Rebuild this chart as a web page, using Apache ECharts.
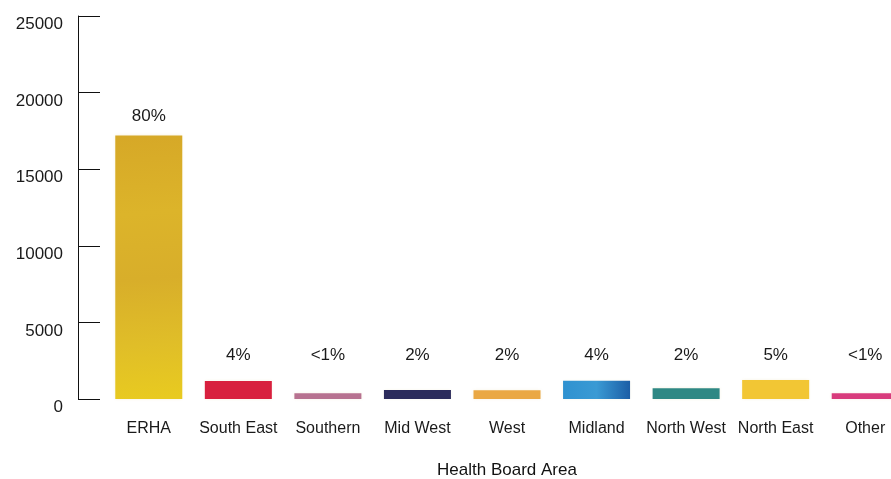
<!DOCTYPE html>
<html>
<head>
<meta charset="utf-8">
<script src="https://cdn.jsdelivr.net/npm/echarts@6/dist/echarts.min.js"></script>
<style>
  html, body { margin: 0; padding: 0; background: #ffffff; }
  #chart { width: 891px; height: 479px; }
</style>
</head>
<body>
<div id="chart"></div>
<script>
// Patients by health board area
const categories = ['ERHA', 'South East', 'Southern', 'Mid West', 'West', 'Midland', 'North West', 'North East', 'Other'];
const counts = [17200, 1170, 380, 590, 570, 1190, 700, 1240, 370];
const shareLabels = ['80%', '4%', '<1%', '2%', '2%', '4%', '2%', '5%', '<1%'];
const yTicks = { min: 0, max: 25000, interval: 5000 };
// small bars keep their share label on a common line at this axis value
const labelFloor = 2870;

const barColors = [
  { type: 'linear', x: 0, y: 0, x2: 0.3, y2: 1, colorStops: [
    { offset: 0, color: '#d6a827' }, { offset: 0.3, color: '#dcb42a' },
    { offset: 0.55, color: '#d8ae2a' }, { offset: 0.8, color: '#e0be28' },
    { offset: 1, color: '#e8ca20' } ] },
  '#d8203e',
  '#b77290',
  '#2c2c5c',
  '#eaa844',
  { type: 'linear', x: 0, y: 0, x2: 1, y2: 0, colorStops: [
    { offset: 0, color: '#2f92d0' }, { offset: 0.5, color: '#3a9ad4' },
    { offset: 1, color: '#1c5ea6' } ] },
  '#2e8884',
  '#f2c634',
  '#d83c7c'
];

const chart = echarts.init(document.getElementById('chart'), null, { renderer: 'canvas' });

chart.setOption({
  backgroundColor: '#ffffff',
  animation: false,
  grid: { left: 104, width: 806, top: 16, bottom: 80, containLabel: false, outerBoundsMode: 'none' },
  xAxis: {
    type: 'category',
    data: categories,
    axisLine: { show: false },
    axisTick: { show: false },
    axisLabel: { color: '#1a1a1a', fontSize: 16, fontFamily: 'Liberation Sans, Arial, sans-serif', margin: 22, interval: 0 },
    name: 'Health Board Area',
    nameLocation: 'middle',
    nameGap: 63,
    nameTextStyle: { color: '#111', fontSize: 17, fontFamily: 'Liberation Sans, Arial, sans-serif' }
  },
  yAxis: {
    type: 'value',
    min: yTicks.min,
    max: yTicks.max,
    interval: yTicks.interval,
    offset: 26,
    splitLine: { show: false },
    axisLine: { show: true, lineStyle: { color: '#111', width: 1 } },
    axisTick: { show: true, inside: true, length: 22, lineStyle: { color: '#111', width: 1 } },
    axisLabel: {
      color: '#1a1a1a', fontSize: 17, fontFamily: 'Liberation Sans, Arial, sans-serif',
      margin: 15, verticalAlign: 'top',
      formatter: v => String(v)
    }
  },
  series: [{
    type: 'bar',
    barWidth: 67,
    data: counts.map((v, i) => ({
      value: v,
      itemStyle: { color: barColors[i], shadowColor: 'rgba(200,170,60,0.15)', shadowBlur: 3 }
    })),
    label: {
      show: true,
      position: 'top',
      color: '#1a1a1a',
      fontSize: 17,
      fontFamily: 'Liberation Sans, Arial, sans-serif',
      formatter: p => shareLabels[p.dataIndex]
    },
    labelLayout: params => {
      const r = params.rect;
      const floorY = chart.convertToPixel({ yAxisIndex: 0 }, labelFloor);
      return {
        x: r.x + r.width / 2,
        y: Math.min(r.y - 19, floorY),
        align: 'center',
        verticalAlign: 'middle'
      };
    }
  }]
});
</script>
</body>
</html>
